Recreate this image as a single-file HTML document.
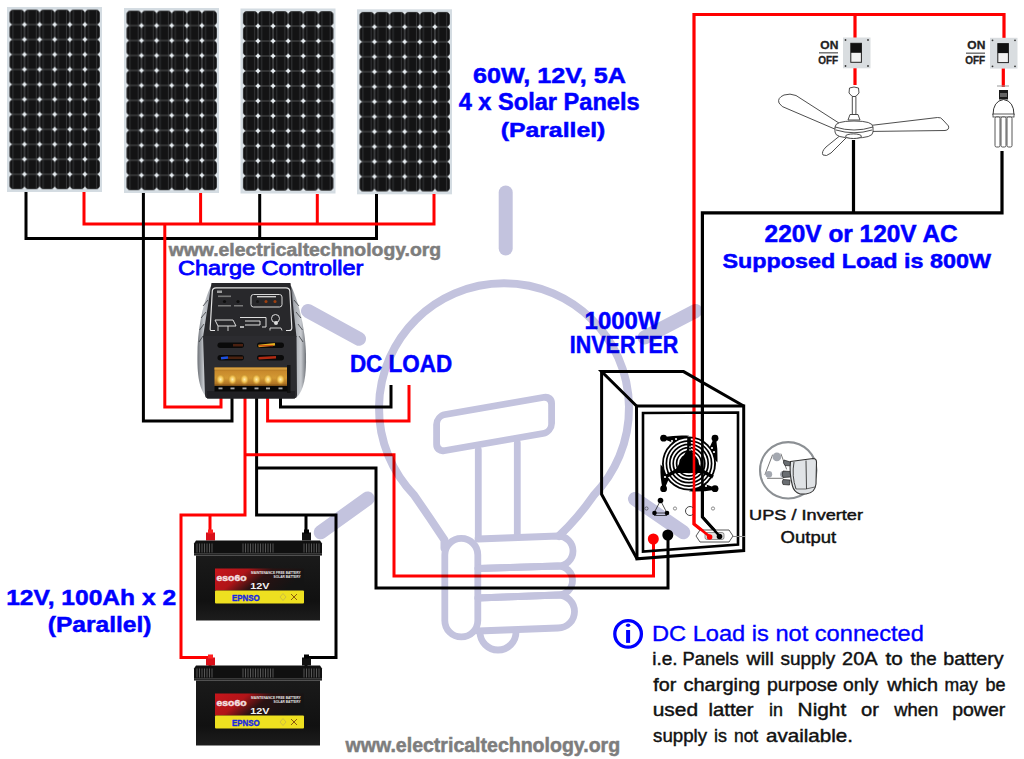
<!DOCTYPE html>
<html><head><meta charset="utf-8">
<style>
html,body{margin:0;padding:0;background:#fff;}
body{width:1024px;height:759px;overflow:hidden;position:relative;}
svg{position:absolute;left:0;top:0;}
text{font-family:"Liberation Sans",sans-serif;}
</style></head><body>
<svg width="1024" height="759" viewBox="0 0 1024 759">
<defs>
  <pattern id="cells" x="0" y="0" width="15.1" height="14.97" patternUnits="userSpaceOnUse">
    <rect x="0" y="0" width="15.1" height="14.97" fill="#8a8e92"/>
    <rect x="0.3" y="0.3" width="14.5" height="14.37" rx="3.4" fill="#131314"/>
    <rect x="3.3" y="0" width="0.7" height="14.97" fill="#404244"/>
    <rect x="11.3" y="0" width="0.7" height="14.97" fill="#404244"/>
    <polygon points="-2.4,0 0,-2.4 2.4,0 0,2.4" fill="#e8eef2"/>
    <polygon points="12.7,0 15.1,-2.4 17.5,0 15.1,2.4" fill="#e8eef2"/>
    <polygon points="-2.4,14.97 0,12.57 2.4,14.97 0,17.37" fill="#e8eef2"/>
    <polygon points="12.7,14.97 15.1,12.57 17.5,14.97 15.1,17.37" fill="#e8eef2"/>
  </pattern>
  <g id="panel">
    <rect x="0" y="0" width="95" height="185" fill="#d4dce2"/>
    <g transform="translate(2.4,2.6)">
      <rect x="0" y="0" width="90.6" height="179.64" fill="url(#cells)"/>
    </g>
  </g>
</defs>

<!-- Solar panels -->
<use href="#panel" x="7" y="7"/>
<use href="#panel" x="124" y="8"/>
<use href="#panel" x="240.5" y="8.5"/>
<use href="#panel" x="357" y="9.3"/>

<!-- Wires -->
<g fill="none" stroke-width="3" stroke-linejoin="miter" stroke-linecap="butt">
  <!-- panel buses -->
  <polyline stroke="#000" points="26,192 26,238.5 376.5,238.5 376.5,194"/>
  <polyline stroke="#000" points="259.7,194 259.7,238.5"/>
  <polyline stroke="#f00" points="84,192 84,224 434,224 434,194"/>
  <polyline stroke="#f00" points="200.6,193 200.6,224"/>
  <polyline stroke="#f00" points="317.3,194 317.3,224"/>
  <!-- to controller -->
  <polyline stroke="#000" points="143.4,193 143.4,421 232,421 232,396"/>
  <polyline stroke="#f00" points="164.8,224 164.8,407 221,407 221,396"/>
  <!-- DC load -->
  <polyline stroke="#000" points="280.5,396 280.5,407 391,407 391,385"/>
  <polyline stroke="#f00" points="267.6,396 267.6,421 409,421 409,385"/>
  <!-- battery -->
  <polyline stroke="#f00" points="245,396 245,515 181,515 181,657.6 210,657.6 210,666"/>
  <polyline stroke="#f00" points="210,515 210,534"/>
  <polyline stroke="#000" points="256.6,396 256.6,515 336,515 336,657.6 306,657.6 306,666"/>
  <polyline stroke="#000" points="306,515 306,534"/>
  <!-- to inverter -->
  <polyline stroke="#f00" points="245,454.7 394,454.7 394,576 653.5,576 653.5,540"/>
  <polyline stroke="#000" points="256.6,468 376,468 376,588 668,588 668,536"/>
  <!-- AC -->
  <polyline stroke="#f00" stroke-width="3.2" points="710,537 694,524 694,14.5 1004,14.5 1004,38"/>
  <polyline stroke="#f00" stroke-width="3.2" points="855,14.5 855,38"/>
  <polyline stroke="#f00" stroke-width="3.2" points="855,68 855,85"/>
  <polyline stroke="#f00" stroke-width="3.2" points="1003.3,68 1003.3,87"/>
  <polyline stroke="#000" stroke-width="3.2" points="719.5,536 702.4,517 702.4,212.8 1002,212.8 1002,151"/>
  <polyline stroke="#000" stroke-width="3.2" points="853.5,140 853.5,212.8"/>
</g>


<!-- Charge controller -->
<g id="controller">
  <defs>
    <linearGradient id="flankL" x1="0" y1="0" x2="1" y2="0">
      <stop offset="0" stop-color="#6e7278"/><stop offset="0.35" stop-color="#c4c7cc"/><stop offset="0.7" stop-color="#a8acb2"/><stop offset="1" stop-color="#2e3034"/>
    </linearGradient>
    <linearGradient id="flankR" x1="0" y1="0" x2="1" y2="0">
      <stop offset="0" stop-color="#2e3034"/><stop offset="0.3" stop-color="#a8acb2"/><stop offset="0.7" stop-color="#c8cbd0"/><stop offset="1" stop-color="#6e7278"/>
    </linearGradient>
    <linearGradient id="gold" x1="0" y1="0" x2="0" y2="1">
      <stop offset="0" stop-color="#9a6418"/><stop offset="0.2" stop-color="#c88a2c"/><stop offset="0.55" stop-color="#d49a34"/><stop offset="0.85" stop-color="#b07424"/><stop offset="1" stop-color="#6a4210"/>
    </linearGradient>
    <radialGradient id="screw" cx="0.5" cy="0.45" r="0.5">
      <stop offset="0" stop-color="#fff0b0"/><stop offset="0.5" stop-color="#f0c050"/><stop offset="1" stop-color="#b07a20" stop-opacity="0"/>
    </radialGradient>
  </defs>
  <!-- flanks -->
  <path d="M211,286 C204,300 198,325 197.5,352 C197,375 199,391 208,398 L215,398 L212,286 Z" fill="url(#flankL)"/>
  <path d="M291,286 C298,300 305,326 306,354 C306.5,376 304,391 296,398 L289,398 L290,286 Z" fill="url(#flankR)"/>
  <g stroke="#2a2c30" stroke-width="0.9" fill="none" opacity="0.8">
    <path d="M208,300 L203,306 M206,312 L201,318 M204,324 L199.5,330 M203,336 L199,342"/>
    <path d="M294,300 L299,306 M296,312 L301,318 M298,324 L302.5,330 M299,336 L303,342"/>
  </g>
  <!-- top face -->
  <path d="M211.5,283 L290.5,283 L296.5,337 L203,337 Z" fill="#28282b"/>
  <!-- lower body -->
  <path d="M203,336 L296.5,336 L297,395 Q297,398.5 293,398.5 L209,398.5 Q205,398.5 205,395 Z" fill="#2c2c30"/>
  <rect x="207" y="391" width="88" height="7.5" fill="#202024"/>
  <!-- top face markings -->
  <path d="M215,330.5 L211,330.5 Q210,330.5 210.2,328 L212.3,291 Q212.6,287.8 216,287.8 L286,287.8 Q289.5,287.8 289.8,291 L291.8,327.5 Q292,330.5 289,330.5 L286,330.5" fill="none" stroke="#e4e4e4" stroke-width="1.2"/>
  <rect x="251" y="294.5" width="31" height="12.5" rx="2.5" fill="none" stroke="#d6d6d6" stroke-width="1"/>
  <rect x="257" y="296" width="19" height="1.4" fill="#cfcfcf"/>
  <circle cx="257.5" cy="301.5" r="1.5" fill="#151515"/><circle cx="266" cy="301.5" r="1.5" fill="#a04010"/><circle cx="275" cy="301.5" r="1.5" fill="#a04010"/>
  <circle cx="224.5" cy="301.5" r="1.6" fill="#0e0e0e"/><circle cx="238" cy="301.5" r="1.6" fill="#0e0e0e"/>
  <rect x="217" y="290.5" width="5" height="2.5" fill="#cfcfcf" opacity="0.7"/>
  <rect x="218" y="295.5" width="13" height="1.6" fill="#9a9a9a" opacity="0.7"/>
  <rect x="218" y="305" width="13" height="1.5" fill="#9a9a9a" opacity="0.7"/><rect x="234" y="305" width="9" height="1.5" fill="#9a9a9a" opacity="0.7"/>
  <path d="M215,320 L233,320 L236,326 L218,326 Z" fill="none" stroke="#ddd" stroke-width="1"/>
  <path d="M218,326 V331 M228,326 V331" stroke="#ddd" stroke-width="0.9"/>
  <path d="M240,317.5 L266,317.5 L266,327 L262,327 M244,327 L240,327 Z M245,321 L260,321 L260,325 L245,325" fill="none" stroke="#ddd" stroke-width="1"/>
  <circle cx="275.5" cy="318.5" r="4" fill="none" stroke="#ddd" stroke-width="1"/>
  <circle cx="276" cy="323" r="2" fill="#ddd"/>
  <path d="M270,330.5 L270,328 L281,328 L282,330.5" fill="none" stroke="#ddd" stroke-width="0.9"/>
  <!-- vents -->
  <rect x="217.5" y="342.5" width="26.5" height="5.5" rx="2.7" fill="#0a0a0a"/>
  <rect x="257" y="342.5" width="27" height="5.5" rx="2.7" fill="#0a0a0a"/>
  <rect x="217.5" y="355" width="26.5" height="5.5" rx="2.7" fill="#0a0a0a"/>
  <rect x="257" y="355" width="27" height="5.5" rx="2.7" fill="#0a0a0a"/>
  <path d="M233,345.2 L243,345.2" stroke="#4a2010" stroke-width="2.5"/>
  <path d="M258.5,346 L275,344.2" stroke="#e8b020" stroke-width="2.6"/>
  <path d="M259,345.8 L273,345.8" stroke="#c03010" stroke-width="1"/>
  <path d="M221,358.2 L228,357.5" stroke="#1e50e0" stroke-width="2.6"/>
  <path d="M228,357.8 L243,357.8" stroke="#4a2210" stroke-width="2.5"/>
  <path d="M258.5,358.3 L276,357.3" stroke="#b02a12" stroke-width="2.6"/>
  <!-- terminal block -->
  <rect x="214.5" y="367.5" width="73" height="19" fill="url(#gold)"/>
  <rect x="214.5" y="367.5" width="73" height="2.2" fill="#d8a040"/>
  <rect x="287" y="365" width="3.5" height="28" fill="#111"/>
  <g fill="url(#screw)">
    <ellipse cx="220.5" cy="380" rx="5" ry="6"/><ellipse cx="232.5" cy="380" rx="5" ry="6"/><ellipse cx="244.5" cy="380" rx="5" ry="6"/>
    <ellipse cx="256.5" cy="380" rx="5" ry="6"/><ellipse cx="268" cy="380" rx="5" ry="6"/><ellipse cx="280.5" cy="380" rx="5" ry="6"/>
  </g>
  <rect x="214.5" y="386" width="73" height="5.5" fill="#080808"/>
  <g fill="#a8a8a8">
    <rect x="218.5" y="387.5" width="4" height="1.8"/><rect x="230.5" y="387.5" width="4" height="1.8"/><rect x="242.5" y="387.5" width="4" height="1.8"/>
    <rect x="254.5" y="387.5" width="4" height="1.8"/><rect x="266" y="387.5" width="4" height="1.8"/><rect x="278.5" y="387.5" width="4" height="1.8"/>
  </g>
</g>

<!-- Batteries -->
<defs>
  <linearGradient id="lbl" x1="0" y1="0" x2="1" y2="0.3">
    <stop offset="0" stop-color="#c8161c"/><stop offset="0.35" stop-color="#b01418"/><stop offset="0.6" stop-color="#2a1212"/><stop offset="1" stop-color="#141414"/>
  </linearGradient>
  <linearGradient id="bbody" x1="0" y1="0" x2="0" y2="1">
    <stop offset="0" stop-color="#1a1a1a"/><stop offset="0.7" stop-color="#111"/><stop offset="1" stop-color="#1d1d1d"/>
  </linearGradient>
  <g id="battery">
    <rect x="12" y="-7" width="9" height="8" fill="#d8101a"/>
    <rect x="14" y="-10" width="5" height="4" fill="#ff2020"/>
    <rect x="108" y="-7" width="9" height="8" fill="#111"/>
    <rect x="110" y="-10" width="5" height="4" fill="#000"/>
    <path d="M2,1 L126,1 L128,4 L128,16 L0,16 L0,4 Z" fill="#101010"/>
    <g stroke="#5c5c5c" stroke-width="0.9">
      <path d="M3,4 V13 M5.5,4 V13 M8,4 V13 M10.5,4 V13 M13,4 V13 M15.5,4 V13 M18,4 V13"/>
      <path d="M49,4 V13 M51.5,4 V13 M54,4 V13 M56.5,4 V13 M59,4 V13 M61.5,4 V13 M64,4 V13 M66.5,4 V13 M69,4 V13 M71.5,4 V13 M74,4 V13 M76.5,4 V13 M79,4 V13"/>
      <path d="M110,4 V13 M112.5,4 V13 M115,4 V13 M117.5,4 V13 M120,4 V13 M122.5,4 V13 M125,4 V13"/>
    </g>
    <rect x="0" y="13.5" width="128" height="1.5" fill="#3a3a3a"/>
    <rect x="2" y="16" width="124" height="65" fill="url(#bbody)"/>
    <rect x="21" y="29" width="89" height="22" fill="url(#lbl)"/>
    <rect x="21" y="51" width="89" height="13" rx="1" fill="#eee020"/>
    <text x="56.2" y="49.6" font-size="9.8" font-weight="bold" fill="#f2f2f2" textLength="19.2" lengthAdjust="spacingAndGlyphs">12V</text>
    <text x="22.5" y="41.3" font-size="8.5" font-weight="bold" fill="#f4e0e0" stroke="#f4e0e0" stroke-width="0.4" textLength="30" lengthAdjust="spacingAndGlyphs">eso6o</text>
    <text x="57" y="34.5" font-size="3.2" font-weight="bold" fill="#e8e8e8" textLength="49.7" lengthAdjust="spacingAndGlyphs">MAINTENANCE FREE BATTERY</text>
    <text x="79.6" y="38.9" font-size="3.2" font-weight="bold" fill="#e8e8e8" textLength="27" lengthAdjust="spacingAndGlyphs">SOLAR BATTERY</text>
    <text x="37.9" y="61.1" font-size="8.5" font-weight="bold" fill="#1828e0" stroke="#1828e0" stroke-width="0.4" textLength="27.8" lengthAdjust="spacingAndGlyphs">EPNSO</text>
    <path d="M97,54.5 L103,60.5 M103,54.5 L97,60.5" stroke="#8a5a10" stroke-width="1"/>
    <path d="M89,54 L92,57.5 L89,61 L86,57.5 Z" fill="none" stroke="#c0b050" stroke-width="0.7"/>
  </g>
</defs>
<use href="#battery" x="194" y="539.5"/>
<use href="#battery" x="194" y="664.5"/>

<!-- Inverter -->
<g fill="none" stroke="#000" stroke-linejoin="miter">
  <path d="M636.5,406 L601.6,371.6 L683.6,371.6 L743.7,406" stroke-width="3"/>
  <path d="M601.6,371.6 L601.6,494.3 L637,558.8" stroke-width="3"/>
  <path d="M636.5,406 L743.7,406 L743.7,550.5 L637,558.8 Z" stroke-width="3"/>
  <path d="M643,413 L738,412.5 L738,544.5 L643,551.5 Z" stroke-width="2.6"/>
</g>
<g id="fan">
  <circle cx="689" cy="463.5" r="27" fill="#000"/>
  <path d="M663.6,438 Q676,436 686,436.5 L676,443 Z M715,438 Q717,450 716.5,460 L709,451 Z M715,488.7 Q702,491 692,490.5 L702,484 Z M663.6,488.7 Q661,477 661.5,467 L669,476 Z" fill="#000" stroke="#000" stroke-width="2"/>
  <circle cx="663.6" cy="438.2" r="3.4" fill="#000"/><circle cx="715" cy="438.2" r="3.4" fill="#000"/>
  <circle cx="663.6" cy="488.7" r="3.4" fill="#000"/><circle cx="715" cy="488.7" r="3.4" fill="#000"/>
  <g fill="none" stroke="#fff" stroke-width="1.7">
    <circle cx="689" cy="463.5" r="24.3"/><circle cx="689" cy="463.5" r="20.9"/><circle cx="689" cy="463.5" r="17.5"/>
    <circle cx="689" cy="463.5" r="14.1"/><circle cx="689" cy="463.5" r="10.7"/><circle cx="689" cy="463.5" r="7.3"/>
  </g>
  <path d="M689,446 L704,473 L674,473 Z" fill="#000"/>
  <path d="M689,437 L689,463.5 M689,463.5 L713,477 M689,463.5 L665,477" stroke="#000" stroke-width="3.6"/>
  <g fill="#fff">
    <circle cx="672" cy="441" r="1.1"/><circle cx="676" cy="439" r="1.1"/><circle cx="712" cy="448" r="1.1"/><circle cx="714" cy="452" r="1.1"/>
    <circle cx="665" cy="477" r="1.1"/><circle cx="706" cy="486" r="1.1"/><circle cx="690" cy="447" r="0.8"/><circle cx="690" cy="450" r="0.8"/>
  </g>
</g>
<g>
  <path d="M660.5,500.5 L654,513 L667,513 Z" fill="none" stroke="#222" stroke-width="0.8"/>
  <circle cx="660.5" cy="500.5" r="2.8" fill="#000"/>
  <circle cx="654.5" cy="513" r="2.3" fill="#000"/><circle cx="667" cy="513" r="2.3" fill="#000"/>
  <path d="M654,515.5 L667,515.5" stroke="#555" stroke-width="1"/>
  <g fill="none" stroke="#444" stroke-width="0.6">
    <circle cx="646.5" cy="508.5" r="1.6"/><circle cx="675" cy="508.5" r="1.6"/><circle cx="713" cy="508.5" r="1.6"/>
    <circle cx="690" cy="511" r="4.5" stroke-width="1"/>
  </g>
  <path d="M700,530 L729,530 L733,536 L729,542 L700,542 L696,536 Z" fill="#fff" stroke="#444" stroke-width="0.9"/>
  <rect x="705" y="532.5" width="19" height="7" rx="2" fill="#e0e0e0" stroke="#555" stroke-width="0.6"/>
  <path d="M733,536.5 L745,536.5" stroke="#888" stroke-width="1"/>
  <path d="M694,420 L694,524 L709.6,536.5" stroke="#f00" stroke-width="2.6" fill="none"/>
  <path d="M702.4,420 L702.4,517 L719.5,536" stroke="#000" stroke-width="2.6" fill="none"/>
  <circle cx="709.6" cy="537" r="2.8" fill="#f00"/>
  <circle cx="719.5" cy="536.5" r="2.8" fill="#000"/>
  <circle cx="653.3" cy="539" r="5.5" fill="#f00"/>
  <circle cx="667.8" cy="535" r="5.5" fill="#000"/>
</g>

<!-- Socket icon -->
<g>
  <circle cx="788.2" cy="470.3" r="28.2" fill="#fff" stroke="#8c9094" stroke-width="2.1"/>
  <path d="M772.5,455 L765,474.5 M767.5,478.3 L783,478.3 M781,454 L786.5,469" fill="none" stroke="#555" stroke-width="0.8" stroke-linecap="round"/>
  <circle cx="776.9" cy="456.9" r="4.3" fill="#a4a8b0"/>
  <circle cx="768.8" cy="474.3" r="3.4" fill="#a4a8b0"/>
  <circle cx="783.5" cy="474.3" r="3.4" fill="#a4a8b0"/>
  <g fill="#6a6e72" stroke="#222" stroke-width="0.7">
    <path d="M784,460 L792,462.5 Q794,464 793,466 L785,465.5 Q782.5,463 784,460 Z"/>
    <path d="M783,471 L790.5,471.5 L790.5,477 L783,477.5 Q781.5,474 783,471 Z"/>
    <path d="M783,479.5 L790,480 L789.5,485 L783,484.5 Q781.5,482 783,479.5 Z"/>
  </g>
  <path d="M790.5,461.5 L813,458.5 Q816.5,458.5 816.5,462 L816,484 Q815,493 806,494 L800,494 Q794,492 792.5,486 Q789,473 790.5,461.5 Z" fill="#e0e3e6" stroke="#333" stroke-width="1.1"/>
  <path d="M794,462 Q791.5,476 796,489" fill="none" stroke="#333" stroke-width="0.9"/>
  <path d="M806,460.5 L806.5,489" fill="none" stroke="#333" stroke-width="0.9"/>
  <path d="M796,489 Q806,490 815,487" fill="none" stroke="#333" stroke-width="0.7"/>
</g>

<!-- Switches -->
<g id="sw1">
  <rect x="843" y="37.5" width="27.5" height="30.8" fill="#d9dde0"/>
  <g fill="#333"><circle cx="845.5" cy="40" r="0.9"/><circle cx="868" cy="40" r="0.9"/><circle cx="845.5" cy="66" r="0.9"/><circle cx="868" cy="66" r="0.9"/></g>
  <rect x="850.8" y="43.3" width="10.6" height="19" fill="#f2f2f2" stroke="#222" stroke-width="1"/>
  <rect x="850.8" y="43.3" width="10.6" height="9.5" fill="#111"/>
  <text x="820.3" y="49" font-size="10.8" font-weight="bold" fill="#222" stroke="#222" stroke-width="0.3" textLength="18" lengthAdjust="spacingAndGlyphs">ON</text>
  <rect x="819" y="52.3" width="19" height="1.1" fill="#444"/>
  <text x="818.2" y="64" font-size="10.8" font-weight="bold" fill="#222" stroke="#222" stroke-width="0.3" textLength="20" lengthAdjust="spacingAndGlyphs">OFF</text>
</g>
<use href="#sw1" x="147" y="0.3"/>

<!-- Ceiling fan -->
<g fill="#fff" stroke="#3a3a3a" stroke-width="0.9" stroke-linejoin="round">
  <path d="M842,125 L796,95.5 Q790,93 784,95 Q777,98 779,103 Q781,107 788,109 L837,130 Z"/>
  <path d="M866,126 L937.5,117.5 Q941,117 943,120 L948.5,126 Q949.5,130 945,130.5 L866,131.5 Z"/>
  <path d="M847,137 L831,153 Q826,157 823,155 Q821,152 826,147 L842,134 Z"/>
  <path d="M849.5,88 Q854,86 858.5,88 L859,93 Q856,97 854,97 Q852,97 849,93 Z"/>
  <rect x="852.3" y="96.5" width="3.6" height="18"/>
  <path d="M850,114.5 L858,114.5 L860,120 L848,120 Z"/>
  <path d="M835,127 Q835,121 854,121 Q873,121 873,127 L873,132 Q873,138 854,138 Q835,138 835,132 Z"/>
  <path d="M835,127 Q854,133 873,127" fill="none"/>
  <path d="M836,130 Q854,135.5 872,130" fill="none"/>
  <ellipse cx="853.5" cy="136.2" rx="8" ry="2.3"/>
</g>

<!-- CFL bulb -->
<g>
  <rect x="997" y="85.5" width="12" height="1" fill="#999"/>
  <rect x="999" y="90" width="9" height="9.5" fill="#1a1a1a"/>
  <rect x="1000" y="93" width="7" height="4" fill="#666"/>
  <path d="M993,115 Q993,101 1003.5,99.5 Q1014,101 1014,115 Z" fill="#fff" stroke="#333" stroke-width="1"/>
  <rect x="993" y="114" width="21" height="3" fill="#fff" stroke="#333" stroke-width="0.8"/>
  <g fill="#fff" stroke="#444" stroke-width="0.9">
    <rect x="995" y="117" width="5" height="30" rx="1.5"/>
    <rect x="1001" y="117" width="5" height="30" rx="1.5"/>
    <rect x="1007" y="117" width="5" height="30" rx="1.5"/>
  </g>
</g>

<!-- Info icon -->
<g>
  <circle cx="628.1" cy="633.9" r="13.3" fill="none" stroke="#0000ff" stroke-width="3.3"/>
  <rect x="626.1" y="630" width="4" height="12.9" fill="#0000ff"/>
  <ellipse cx="628.1" cy="625.3" rx="2.2" ry="1.7" fill="#0000ff"/>
</g>

<!-- Texts -->
<text x="473.01" y="83.00" font-size="22.70" fill="#0000ff" font-weight="bold" stroke="#0000ff" stroke-width="0.5" textLength="153.00" lengthAdjust="spacingAndGlyphs">60W, 12V, 5A</text>
<text x="458.71" y="110.00" font-size="23.52" fill="#0000ff" font-weight="bold" stroke="#0000ff" stroke-width="0.5" textLength="180.91" lengthAdjust="spacingAndGlyphs">4 x Solar Panels</text>
<text x="500.70" y="136.80" font-size="21.01" fill="#0000ff" font-weight="bold" stroke="#0000ff" stroke-width="0.5" textLength="104.61" lengthAdjust="spacingAndGlyphs">(Parallel)</text>
<text x="168.70" y="256.10" font-size="17.88" fill="#7d7d7d" font-weight="bold" stroke="#7d7d7d" stroke-width="0.5" textLength="272.50" lengthAdjust="spacingAndGlyphs">www.electricaltechnology.org</text>
<text x="178.01" y="275.10" font-size="20.77" fill="#0000ff" stroke="#0000ff" stroke-width="0.8" textLength="185.30" lengthAdjust="spacingAndGlyphs">Charge Controller</text>
<text x="349.90" y="372.30" font-size="23.63" fill="#0000ff" font-weight="bold" stroke="#0000ff" stroke-width="0.5" textLength="102.20" lengthAdjust="spacingAndGlyphs">DC LOAD</text>
<text x="584.62" y="329.10" font-size="24.15" fill="#0000ff" font-weight="bold" stroke="#0000ff" stroke-width="0.5" textLength="75.81" lengthAdjust="spacingAndGlyphs">1000W</text>
<text x="569.81" y="353.00" font-size="23.67" fill="#0000ff" font-weight="bold" stroke="#0000ff" stroke-width="0.5" textLength="108.50" lengthAdjust="spacingAndGlyphs">INVERTER</text>
<text x="764.60" y="242.00" font-size="23.88" fill="#0000ff" font-weight="bold" stroke="#0000ff" stroke-width="0.5" textLength="193.11" lengthAdjust="spacingAndGlyphs">220V or 120V AC</text>
<text x="722.51" y="268.40" font-size="20.94" fill="#0000ff" font-weight="bold" stroke="#0000ff" stroke-width="0.5" textLength="268.51" lengthAdjust="spacingAndGlyphs">Supposed Load is 800W</text>
<text x="6.20" y="604.90" font-size="22.21" fill="#0000ff" font-weight="bold" stroke="#0000ff" stroke-width="0.5" textLength="169.90" lengthAdjust="spacingAndGlyphs">12V, 100Ah x 2</text>
<text x="47.71" y="631.80" font-size="22.07" fill="#0000ff" font-weight="bold" stroke="#0000ff" stroke-width="0.5" textLength="103.81" lengthAdjust="spacingAndGlyphs">(Parallel)</text>
<text x="749.11" y="520.10" font-size="14.97" fill="#111111" stroke="#111111" stroke-width="0.45" textLength="113.89" lengthAdjust="spacingAndGlyphs">UPS / Inverter</text>
<text x="780.62" y="542.70" font-size="16.81" fill="#111111" stroke="#111111" stroke-width="0.45" textLength="55.61" lengthAdjust="spacingAndGlyphs">Output</text>
<text x="652.00" y="640.70" font-size="22.73" fill="#0000ff" stroke="#0000ff" stroke-width="0.35" textLength="271.80" lengthAdjust="spacingAndGlyphs">DC Load is not connected</text>
<text x="345.60" y="751.70" font-size="19.55" fill="#7d7d7d" font-weight="bold" stroke="#7d7d7d" stroke-width="0.5" textLength="274.51" lengthAdjust="spacingAndGlyphs">www.electricaltechnology.org</text>
<text x="652.20" y="665.00" font-size="17.70" fill="#111111" stroke="#111111" stroke-width="0.42" textLength="25.43" lengthAdjust="spacingAndGlyphs">i.e.</text>
<text x="682.51" y="665.00" font-size="17.70" fill="#111111" stroke="#111111" stroke-width="0.42" textLength="56.11" lengthAdjust="spacingAndGlyphs">Panels</text>
<text x="746.54" y="665.00" font-size="17.70" fill="#111111" stroke="#111111" stroke-width="0.42" textLength="27.31" lengthAdjust="spacingAndGlyphs">will</text>
<text x="780.52" y="665.00" font-size="17.70" fill="#111111" stroke="#111111" stroke-width="0.42" textLength="54.83" lengthAdjust="spacingAndGlyphs">supply</text>
<text x="842.04" y="665.00" font-size="17.70" fill="#111111" stroke="#111111" stroke-width="0.42" textLength="35.57" lengthAdjust="spacingAndGlyphs">20A</text>
<text x="885.46" y="665.00" font-size="17.70" fill="#111111" stroke="#111111" stroke-width="0.42" textLength="17.25" lengthAdjust="spacingAndGlyphs">to</text>
<text x="910.55" y="665.00" font-size="17.70" fill="#111111" stroke="#111111" stroke-width="0.42" textLength="26.02" lengthAdjust="spacingAndGlyphs">the</text>
<text x="943.32" y="665.00" font-size="17.70" fill="#111111" stroke="#111111" stroke-width="0.42" textLength="60.23" lengthAdjust="spacingAndGlyphs">battery</text>
<text x="653.26" y="690.50" font-size="17.70" fill="#111111" stroke="#111111" stroke-width="0.42" textLength="23.01" lengthAdjust="spacingAndGlyphs">for</text>
<text x="683.51" y="690.50" font-size="17.70" fill="#111111" stroke="#111111" stroke-width="0.42" textLength="76.69" lengthAdjust="spacingAndGlyphs">charging</text>
<text x="767.01" y="690.50" font-size="17.70" fill="#111111" stroke="#111111" stroke-width="0.42" textLength="70.49" lengthAdjust="spacingAndGlyphs">purpose</text>
<text x="843.14" y="690.50" font-size="17.70" fill="#111111" stroke="#111111" stroke-width="0.42" textLength="35.36" lengthAdjust="spacingAndGlyphs">only</text>
<text x="887.32" y="690.50" font-size="17.70" fill="#111111" stroke="#111111" stroke-width="0.42" textLength="50.77" lengthAdjust="spacingAndGlyphs">which</text>
<text x="944.53" y="690.50" font-size="17.70" fill="#111111" stroke="#111111" stroke-width="0.42" textLength="33.29" lengthAdjust="spacingAndGlyphs">may</text>
<text x="985.54" y="690.50" font-size="17.70" fill="#111111" stroke="#111111" stroke-width="0.42" textLength="20.05" lengthAdjust="spacingAndGlyphs">be</text>
<text x="652.70" y="716.00" font-size="17.70" fill="#111111" stroke="#111111" stroke-width="0.42" textLength="45.35" lengthAdjust="spacingAndGlyphs">used</text>
<text x="708.53" y="716.00" font-size="17.70" fill="#111111" stroke="#111111" stroke-width="0.42" textLength="45.06" lengthAdjust="spacingAndGlyphs">latter</text>
<text x="769.07" y="716.00" font-size="17.70" fill="#111111" stroke="#111111" stroke-width="0.42" textLength="13.94" lengthAdjust="spacingAndGlyphs">in</text>
<text x="797.62" y="716.00" font-size="17.70" fill="#111111" stroke="#111111" stroke-width="0.42" textLength="48.60" lengthAdjust="spacingAndGlyphs">Night</text>
<text x="861.05" y="716.00" font-size="17.70" fill="#111111" stroke="#111111" stroke-width="0.42" textLength="17.92" lengthAdjust="spacingAndGlyphs">or</text>
<text x="894.22" y="716.00" font-size="17.70" fill="#111111" stroke="#111111" stroke-width="0.42" textLength="44.14" lengthAdjust="spacingAndGlyphs">when</text>
<text x="952.22" y="716.00" font-size="17.70" fill="#111111" stroke="#111111" stroke-width="0.42" textLength="53.02" lengthAdjust="spacingAndGlyphs">power</text>
<text x="653.13" y="741.60" font-size="17.70" fill="#111111" stroke="#111111" stroke-width="0.42" textLength="53.92" lengthAdjust="spacingAndGlyphs">supply</text>
<text x="714.07" y="741.60" font-size="17.70" fill="#111111" stroke="#111111" stroke-width="0.42" textLength="12.93" lengthAdjust="spacingAndGlyphs">is</text>
<text x="734.06" y="741.60" font-size="17.70" fill="#111111" stroke="#111111" stroke-width="0.42" textLength="24.04" lengthAdjust="spacingAndGlyphs">not</text>
<text x="766.01" y="741.60" font-size="17.70" fill="#111111" stroke="#111111" stroke-width="0.42" textLength="86.89" lengthAdjust="spacingAndGlyphs">available.</text>
<!-- Watermark -->
<g fill="none" stroke="#c3c3de" style="mix-blend-mode:multiply" stroke-linecap="round" stroke-linejoin="round">
  <g stroke-width="14">
    <line x1="505.7" y1="192.5" x2="505.7" y2="248.5"/>
    <line x1="308" y1="311" x2="359" y2="338.8"/>
    <line x1="644.5" y1="337.5" x2="695.5" y2="311"/>
    <line x1="320.7" y1="532.3" x2="367.7" y2="498.5"/>
    <line x1="635" y1="498.9" x2="683.3" y2="532.3"/>
  </g>
  <g stroke-width="8">
    <path d="M444.5,548 L444.5,540 Q430,518 414,495 A125,125 0 1 1 594,495 Q578,518 559,536"/>
  </g>
  <g stroke-width="6.8">
    <g transform="translate(436.6,416) skewY(-9.9)"><rect x="0" y="0" width="115" height="36" rx="8"/></g>
    <line x1="478.3" y1="450" x2="478.3" y2="537"/>
    <line x1="517.3" y1="443" x2="517.3" y2="537"/>
    <rect x="444.8" y="538.4" width="33" height="98.5" rx="16.5"/>
    <path d="M478,539 L558,536 A15,15 0 0 1 558,566 L478,568.5"/>
    <path d="M478,568.5 L558,566 A14.5,14.5 0 0 1 558,595 L478,598"/>
    <path d="M478,598 L558,595 A16.5,16.5 0 0 1 558,628 L478,631"/>
    <path d="M480,632 A18,18 0 0 0 516,632"/>
  </g>
</g>

</svg>
</body></html>
